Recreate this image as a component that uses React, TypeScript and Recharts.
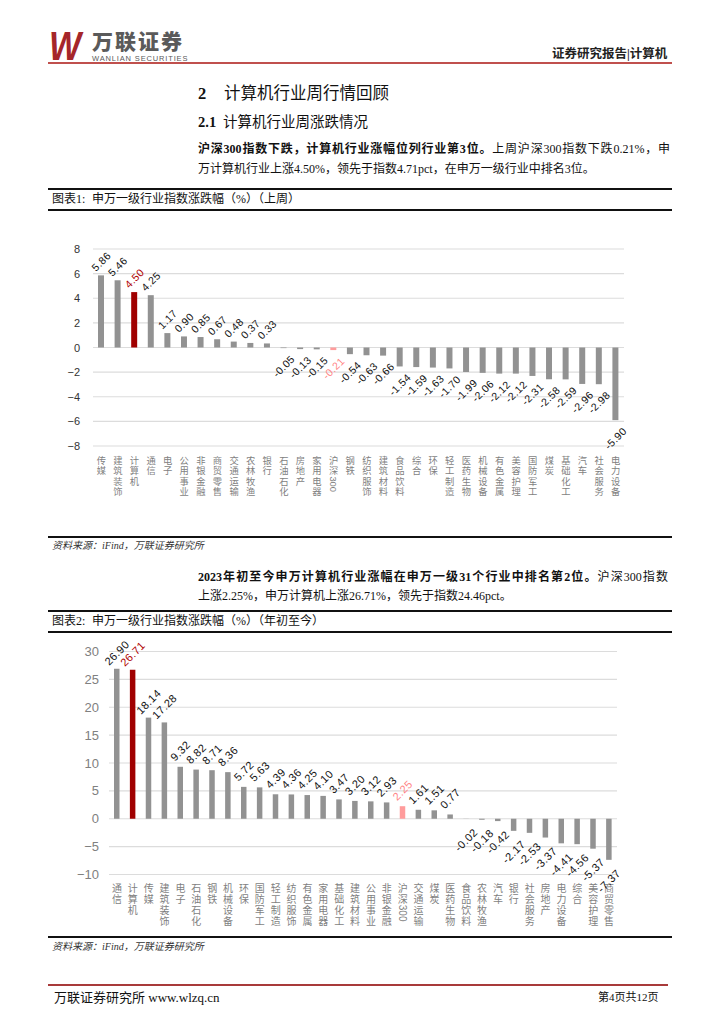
import React from 'react';
import { BarChart, Bar, XAxis, YAxis, CartesianGrid, Cell, LabelList } from 'recharts';

// ---------- data ----------
const weekCategories = ['传媒', '建筑装饰', '计算机', '通信', '电子', '公用事业', '非银金融', '商贸零售', '交通运输', '农林牧渔', '银行', '石油石化', '房地产', '家用电器', '沪深300', '钢铁', '纺织服饰', '建筑材料', '食品饮料', '综合', '环保', '轻工制造', '医药生物', '机械设备', '有色金属', '美容护理', '国防军工', '煤炭', '基础化工', '汽车', '社会服务', '电力设备'];
const weekValues = [5.86, 5.46, 4.5, 4.25, 1.17, 0.9, 0.85, 0.67, 0.48, 0.37, 0.33, -0.05, -0.13, -0.15, -0.21, -0.54, -0.63, -0.66, -1.54, -1.59, -1.63, -1.7, -1.99, -2.06, -2.12, -2.12, -2.31, -2.58, -2.59, -2.96, -2.98, -5.9];
const weekTicks = [-8, -6, -4, -2, 0, 2, 4, 6, 8];

const ytdCategories = ['通信', '计算机', '传媒', '建筑装饰', '电子', '石油石化', '钢铁', '机械设备', '环保', '国防军工', '轻工制造', '纺织服饰', '有色金属', '家用电器', '基础化工', '建筑材料', '公用事业', '非银金融', '沪深300', '交通运输', '煤炭', '医药生物', '食品饮料', '农林牧渔', '汽车', '银行', '社会服务', '房地产', '电力设备', '综合', '美容护理', '商贸零售'];
const ytdValues = [26.9, 26.71, 18.14, 17.28, 9.32, 8.82, 8.71, 8.36, 5.72, 5.63, 4.39, 4.36, 4.25, 4.1, 3.47, 3.2, 3.12, 2.93, 2.25, 1.61, 1.51, 0.77, -0.02, -0.18, -0.42, -2.17, -2.53, -3.37, -4.41, -4.56, -5.37, -7.37];
const ytdTicks = [-10, -5, 0, 5, 10, 15, 20, 25, 30];

const weekData = weekCategories.map((name, i) => ({ name, value: weekValues[i] }));
const ytdData = ytdCategories.map((name, i) => ({ name, value: ytdValues[i] }));

// ---------- styles ----------
const CJK = '"Liberation Serif", "Noto Sans CJK SC", serif';
const SANS = '"Liberation Sans", Arial, sans-serif';
const CJKSANS = '"Noto Sans CJK SC", sans-serif';

const barColor = (name: string) => (name === '计算机' ? '#a00000' : name === '沪深300' ? '#ff9c9c' : '#929292');
const labelColor = (name: string) => (name === '计算机' ? '#b00000' : name === '沪深300' ? '#ff8585' : '#111111');

const makeLabel = (cats: string[], above: number, below: number, fontSize: number) => (props: any) => {
  const { x, y, width, height, value, index } = props;
  const top = Math.min(y, y + height);
  const bottom = Math.max(y, y + height);
  const cx = x + width / 2;
  const cy = value >= 0 ? top - above : bottom + below;
  const name = cats[index];
  return (
    <text
      x={cx}
      y={cy}
      transform={`rotate(-45 ${cx} ${cy})`}
      textAnchor="middle"
      dominantBaseline="central"
      fontSize={fontSize}
      fontFamily={SANS}
      letterSpacing={0.4}
      fill={labelColor(name)}
    >
      {Number(value).toFixed(2)}
    </text>
  );
};

// vertical category labels, one character per row; digits rotated as in the reference
const makeXTick = (firstCenter: number, step: number, fontSize: number) => (props: any) => {
  const { x, y, payload } = props;
  const name: string = String(payload.value);
  const m = name.match(/^(\D+)(\d+)$/);
  const chars = m ? m[1].split('') : name.split('');
  return (
    <g>
      {chars.map((c, i) => (
        <text key={i} x={x} y={y + firstCenter + i * step} textAnchor="middle" dominantBaseline="central" fontSize={fontSize} fontFamily={CJKSANS} fill="#7f7f7f">
          {c}
        </text>
      ))}
      {m && (
        <text
          transform={`translate(${x - fontSize * 0.35},${y + firstCenter + chars.length * step - step / 2 + 1}) rotate(90)`}
          x={0}
          y={0}
          textAnchor="start"
          fontSize={fontSize}
          fontFamily={SANS}
          fill="#7f7f7f"
        >
          {m[2]}
        </text>
      )}
    </g>
  );
};

const makeYTick = (fontSize: number, color: string) => (props: any) => {
  const { x, y, payload } = props;
  return (
    <text x={x} y={y} textAnchor="end" dominantBaseline="central" fontSize={fontSize} fontFamily={SANS} fill={color}>
      {String(payload.value).replace('-', '−')}
    </text>
  );
};

// ---------- helpers ----------
const Txt = ({ x, y, size, children, style }: any) => (
  <div
    style={{
      position: 'absolute',
      left: x,
      top: y - size * 0.7,
      fontSize: size,
      lineHeight: `${size * 1.4}px`,
      whiteSpace: 'nowrap',
      ...style,
    }}
  >
    {children}
  </div>
);

const HLine = ({ y, h, color, x1 = 48, x2 = 672 }: any) => (
  <div style={{ position: 'absolute', left: x1, width: x2 - x1, top: y - h / 2, height: h, background: color }} />
);

export default function App() {
  return (
    <div style={{ position: 'absolute', left: 0, top: 0, width: 724, height: 1024, background: '#fff', overflow: 'hidden', fontFamily: CJK, color: '#111' }}>
      {/* header */}
      <div style={{ position: 'absolute', left: 49, top: 26, fontFamily: SANS, fontWeight: 700, fontStyle: 'italic', fontSize: 40, lineHeight: '40px', color: '#a5262a', transform: 'scaleX(0.85)', transformOrigin: 'left' }}>W</div>
      <Txt x={92} y={41} size={21} style={{ fontFamily: CJKSANS, fontWeight: 900, color: '#5a5a5a', letterSpacing: 2 }}>万联证券</Txt>
      <Txt x={92} y={59} size={7.5} style={{ fontFamily: SANS, color: '#5a5a5a', letterSpacing: 0.85, lineHeight: '8px', top: 55 }}>WANLIAN SECURITIES</Txt>
      <Txt x={552} y={55} size={12.5} style={{ fontWeight: 700, color: '#222' }}>证券研究报告|计算机</Txt>
      <HLine y={63} h={1.5} color="#c0504d" />

      {/* section heading */}
      <Txt x={198} y={94} size={16.5} style={{ fontWeight: 700 }}>2</Txt>
      <Txt x={224} y={94} size={16.5}>计算机行业周行情回顾</Txt>
      <Txt x={198} y={122} size={14.5} style={{ fontWeight: 700 }}>2.1</Txt>
      <Txt x={223} y={122} size={14.5}>计算机行业周涨跌情况</Txt>

      <div style={{ position: 'absolute', left: 198, top: 141, width: 472, fontSize: 12, lineHeight: '17px', textAlign: 'justify', textAlignLast: 'justify' as any }}>
        <b>沪深300指数下跌，计算机行业涨幅位列行业第3位。</b>上周沪深300指数下跌0.21%，申
      </div>
      <Txt x={198} y={169} size={12}>万计算机行业上涨4.50%，领先于指数4.71pct，在申万一级行业中排名3位。</Txt>

      {/* figure 1 title */}
      <HLine y={189} h={2.5} color="#111" />
      <Txt x={52} y={199.5} size={12}>图表1:</Txt>
      <Txt x={92} y={199.5} size={12}>申万一级行业指数涨跌幅（%）（上周）</Txt>
      <HLine y={210} h={1.5} color="#111" />

      <div style={{ position: 'absolute', left: 0, top: 230 }}>
        <BarChart width={724} height={300} data={weekData} margin={{ top: 19, right: 100, bottom: 0, left: 0 }} barSize={6}>
          <CartesianGrid vertical={false} stroke="#dcdcdc" strokeWidth={1.2} />
          <XAxis dataKey="name" interval={0} tickLine={false} axisLine={false} tickSize={0} tickMargin={0} height={84} tick={makeXTick(14, 10.3, 9.3)} />
          <YAxis domain={[-8, 8]} ticks={weekTicks} width={93} tickLine={false} axisLine={false} tickSize={0} tickMargin={13} tick={makeYTick(11, '#333')} interval={0} />
          <Bar dataKey="value" isAnimationActive={false}>
            {weekData.map((d) => (
              <Cell key={d.name} fill={barColor(d.name)} />
            ))}
            <LabelList dataKey="value" content={makeLabel(weekCategories, 14, 18, 10.5)} />
          </Bar>
        </BarChart>
      </div>

      <HLine y={537} h={2} color="#111" />
      <Txt x={52} y={546} size={10} style={{ fontStyle: 'italic', color: '#333' }}>资料来源：iFind，万联证券研究所</Txt>

      {/* paragraph 2 */}
      <div style={{ position: 'absolute', left: 198, top: 569, width: 470, fontSize: 12, lineHeight: '17px', textAlign: 'justify', textAlignLast: 'justify' as any }}>
        <b>2023年初至今申万计算机行业涨幅在申万一级31个行业中排名第2位。</b>沪深300指数
      </div>
      <Txt x={198} y={596} size={12}>上涨2.25%，申万计算机上涨26.71%，领先于指数24.46pct。</Txt>

      {/* figure 2 title */}
      <HLine y={611} h={2.5} color="#111" />
      <Txt x={52} y={621} size={12}>图表2:</Txt>
      <Txt x={92} y={621} size={12}>申万一级行业指数涨跌幅（%）（年初至今）</Txt>
      <HLine y={632} h={1.5} color="#111" />

      <div style={{ position: 'absolute', left: 0, top: 634 }}>
        <BarChart width={724} height={302} data={ytdData} margin={{ top: 17.5, right: 107, bottom: 0, left: 0 }} barSize={5.5}>
          <CartesianGrid vertical={false} stroke="#dcdcdc" strokeWidth={1.2} />
          <XAxis dataKey="name" interval={0} tickLine={false} axisLine={false} tickSize={0} tickMargin={0} height={61.5} tick={makeXTick(12.5, 11.2, 10)} />
          <YAxis domain={[-10, 30]} ticks={ytdTicks} width={109} tickLine={false} axisLine={false} tickSize={0} tickMargin={10} tick={makeYTick(13, '#808080')} interval={0} />
          <Bar dataKey="value" isAnimationActive={false}>
            {ytdData.map((d) => (
              <Cell key={d.name} fill={barColor(d.name)} />
            ))}
            <LabelList dataKey="value" content={makeLabel(ytdCategories, 16, 21, 11)} />
          </Bar>
        </BarChart>
      </div>

      <HLine y={937} h={2} color="#111" />
      <Txt x={52} y={947} size={10} style={{ fontStyle: 'italic', color: '#333' }}>资料来源：iFind，万联证券研究所</Txt>

      {/* footer */}
      <HLine y={985} h={2} color="#a83a3a" x2={668} />
      <Txt x={54} y={998} size={13}>万联证券研究所 www.wlzq.cn</Txt>
      <Txt x={598} y={998} size={11}>第4页共12页</Txt>
    </div>
  );
}
